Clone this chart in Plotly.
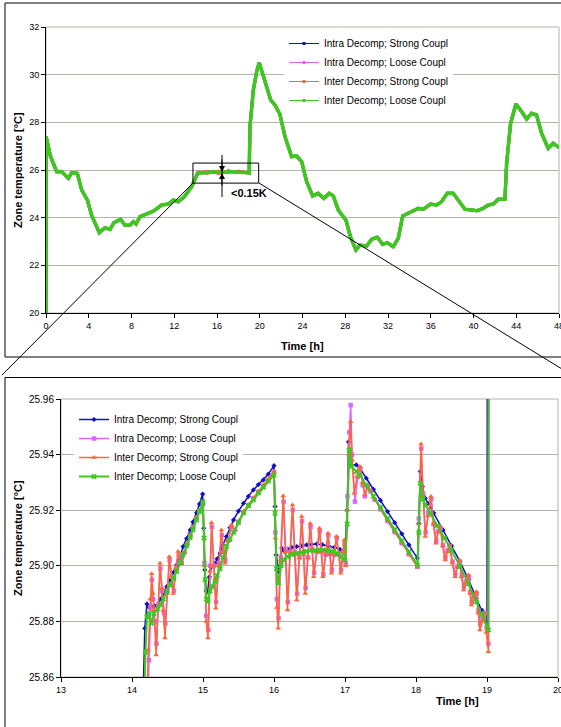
import plotly.graph_objects as go

W, H = 561, 727

# ---------------- data ----------------
series_names = ["Intra Decomp; Strong Coupl", "Intra Decomp; Loose Coupl",
                "Inter Decomp; Strong Coupl", "Inter Decomp; Loose Coupl"]
series_colors = ["#1010C8", "#DA66FF", "#FF6633", "#3CC81E"]
series_symbols = ["diamond", "square", "triangle-up", "x"]

# shared coarse part before the zoom window [h], [degC]
pre_time = [0.0, 0.02, 0.4, 1.0, 1.47, 2.09, 2.4, 2.93, 3.34, 3.87, 4.27, 4.99, 5.52, 5.99,
            6.36, 6.98, 7.39, 7.86, 8.17, 8.42, 8.79, 9.42, 10.04, 10.82, 11.44, 11.91,
            12.38, 12.94, 13.63]
pre_temp = [20.0, 27.39, 26.6, 25.93, 25.93, 25.65, 25.89, 25.86, 25.16, 24.74, 24.10, 23.37,
            23.58, 23.51, 23.79, 23.93, 23.68, 23.68, 23.83, 23.73, 24.04, 24.15, 24.27,
            24.53, 24.57, 24.74, 24.67, 24.88, 25.30]

# shared coarse part after the zoom window
post_time = [19.08, 19.4, 19.71, 19.95, 20.64, 21.02, 21.42, 21.89, 22.36, 22.98, 23.45, 23.92,
             24.39, 24.95, 25.47, 26.0, 26.5, 26.88, 27.35, 28.06, 28.5, 29.0, 29.37, 30.0,
             30.47, 31.0, 31.5, 31.93, 32.49, 32.96, 33.37, 34.05, 34.83, 35.3, 35.98, 36.55,
             37.01, 37.54, 38.1, 38.57, 39.2, 39.82, 40.35, 40.91, 41.38, 41.85, 42.31, 42.94,
             43.1, 43.47, 43.97, 44.5, 44.97, 45.43, 45.9, 46.37, 46.99, 47.46, 48.0]
post_temp = [27.80, 29.36, 30.13, 30.50, 29.50, 28.94, 28.73, 28.33, 27.40, 26.56, 26.59, 26.35,
             25.51, 24.91, 25.02, 24.81, 25.02, 24.91, 24.32, 23.90, 23.18, 22.64, 22.85, 22.81,
             23.09, 23.18, 22.88, 22.95, 22.78, 23.13, 24.07, 24.21, 24.39, 24.35, 24.57, 24.53,
             24.67, 25.02, 25.02, 24.74, 24.35, 24.32, 24.29, 24.39, 24.53, 24.57, 24.77, 24.77,
             26.28, 27.96, 28.77, 28.45, 28.14, 28.38, 28.31, 27.54, 26.91, 27.12, 26.94]

# detailed values inside the zoom window (14.2 h - 19 h)
blue_time = [14.18, 14.21, 14.24, 14.28, 14.32, 14.36, 14.40, 14.44, 14.49, 14.54, 14.59, 14.63,
             14.68, 14.72, 14.77, 14.82, 14.86, 14.91, 14.95, 14.995, 15.01, 15.025, 15.045,
             15.065, 15.09, 15.12, 15.17, 15.20, 15.24, 15.28, 15.33, 15.38, 15.43, 15.50,
             15.57, 15.64, 15.71, 15.78, 15.85, 15.92, 16.00, 16.015, 16.03, 16.07, 16.11,
             16.15, 16.19, 16.25, 16.32, 16.39, 16.46, 16.53, 16.60, 16.68, 16.77, 16.85,
             16.93, 17.00, 17.03, 17.05, 17.09, 17.16, 17.21, 17.30, 17.40, 17.50, 17.60,
             17.70, 17.80, 17.90, 18.02, 18.04, 18.06, 18.09, 18.13, 18.17, 18.25, 18.38,
             18.50, 18.62, 18.74, 18.85, 18.93, 19.00]
blue_temp = [25.8775, 25.8863, 25.8850, 25.8853, 25.8855, 25.8860, 25.8880, 25.8900, 25.8925,
             25.8950, 25.8978, 25.9003, 25.9035, 25.9069, 25.9098, 25.9129, 25.9158, 25.9191,
             25.9222, 25.9258, 25.9135, 25.8985, 25.8910, 25.8907, 25.8960, 25.8997, 25.9009,
             25.9025, 25.9045, 25.9075, 25.9105, 25.9137, 25.9165, 25.9197, 25.9225, 25.9250,
             25.9273, 25.9292, 25.9309, 25.9330, 25.9360, 25.9213, 25.9039, 25.8979, 25.9063,
             25.9051, 25.9060, 25.9066, 25.9069, 25.9072, 25.9075, 25.9077, 25.9078, 25.9076,
             25.9071, 25.9066, 25.9059, 25.9050, 25.9200, 25.9446, 25.9363, 25.9363, 25.9351,
             25.9315, 25.9275, 25.9235, 25.9195, 25.9155, 25.9115, 25.9075, 25.9027, 25.9153,
             25.9339, 25.9285, 25.9243, 25.9225, 25.9190, 25.9129, 25.9072, 25.9015, 25.8950,
             25.8883, 25.8840, 25.8793]

magenta_time = [14.24, 14.26, 14.28, 14.30, 14.32, 14.345, 14.37, 14.40, 14.425, 14.45, 14.47,
                14.50, 14.53, 14.56, 14.59, 14.62, 14.66, 14.70, 14.74, 14.78, 14.82, 14.86,
                14.91, 14.95, 15.00, 15.02, 15.045, 15.075, 15.10, 15.125, 15.155, 15.185,
                15.225, 15.265, 15.29, 15.315, 15.355, 15.40, 15.45, 15.50, 15.57, 15.64,
                15.71, 15.78, 15.85, 15.92, 16.00, 16.02, 16.04, 16.065, 16.095, 16.135,
                16.165, 16.195, 16.23, 16.265, 16.295, 16.325, 16.36, 16.395, 16.42, 16.445,
                16.48, 16.515, 16.54, 16.565, 16.605, 16.645, 16.67, 16.695, 16.73, 16.765,
                16.79, 16.815, 16.85, 16.885, 16.915, 16.945, 16.975, 16.995, 17.01, 17.035,
                17.06, 17.08, 17.10, 17.14, 17.18, 17.215, 17.25, 17.28, 17.32, 17.36, 17.42,
                17.50, 17.60, 17.70, 17.80, 17.90, 18.02, 18.04, 18.075, 18.10, 18.135,
                18.175, 18.215, 18.25, 18.285, 18.315, 18.345, 18.38, 18.415, 18.445, 18.475,
                18.515, 18.555, 18.585, 18.615, 18.645, 18.675, 18.71, 18.745, 18.765, 18.785,
                18.82, 18.855, 18.88, 18.905, 18.935, 18.965, 18.995, 19.02]
magenta_temp = [25.8660, 25.8850, 25.8950, 25.8880, 25.8800, 25.8720, 25.8860, 25.8990, 25.8910,
                25.8830, 25.8793, 25.8910, 25.9020, 25.8960, 25.8910, 25.8990, 25.9040, 25.9010,
                25.9048, 25.9078, 25.9108, 25.9138, 25.9172, 25.9198, 25.9222, 25.9010, 25.8820,
                25.8770, 25.9000, 25.9140, 25.9000, 25.8870, 25.9010, 25.9110, 25.9050, 25.9020,
                25.9090, 25.9140, 25.9128, 25.9158, 25.9193, 25.9218, 25.9243, 25.9266, 25.9288,
                25.9310, 25.9337, 25.9120, 25.8880, 25.8811, 25.9030, 25.9230, 25.9060, 25.8870,
                25.9050, 25.9200, 25.9050, 25.8900, 25.9030, 25.9160, 25.9050, 25.8920, 25.9030,
                25.9140, 25.9060, 25.8975, 25.9050, 25.9125, 25.9050, 25.8970, 25.9040, 25.9110,
                25.9045, 25.8985, 25.9040, 25.9100, 25.9040, 25.8985, 25.9050, 25.9080, 25.9010,
                25.9250, 25.9480, 25.9578, 25.9400, 25.9231, 25.9320, 25.9350, 25.9290, 25.9250,
                25.9280, 25.9268, 25.9238, 25.9203, 25.9161, 25.9121, 25.9081, 25.9041, 25.8997,
                25.9170, 25.9422, 25.9260, 25.9120, 25.9190, 25.9240, 25.9150, 25.9090, 25.9125,
                25.9135, 25.9075, 25.9030, 25.9055, 25.9070, 25.9015, 25.8970, 25.8998, 25.9015,
                25.8965, 25.8925, 25.8945, 25.8960, 25.8905, 25.8870, 25.8893, 25.8900, 25.8840,
                25.8790, 25.8810, 25.8830, 25.8775, 25.8720]

orange_time = [14.23, 14.255, 14.277, 14.295, 14.31, 14.34, 14.365, 14.394, 14.42, 14.44,
               14.465, 14.495, 14.525, 14.555, 14.58, 14.615, 14.65, 14.70, 14.74, 14.78,
               14.82, 14.86, 14.91, 14.95, 15.00, 15.02, 15.045, 15.07, 15.095, 15.12, 15.15,
               15.18, 15.22, 15.26, 15.285, 15.31, 15.35, 15.40, 15.45, 15.50, 15.57, 15.64,
               15.71, 15.78, 15.85, 15.92, 16.00, 16.02, 16.04, 16.06, 16.09, 16.13, 16.16,
               16.19, 16.225, 16.26, 16.29, 16.32, 16.355, 16.39, 16.415, 16.44, 16.475, 16.51,
               16.535, 16.56, 16.60, 16.64, 16.665, 16.69, 16.725, 16.76, 16.785, 16.81,
               16.845, 16.88, 16.91, 16.94, 16.97, 16.99, 17.01, 17.03, 17.055, 17.08, 17.10,
               17.13, 17.17, 17.21, 17.245, 17.28, 17.32, 17.36, 17.42, 17.50, 17.60, 17.70,
               17.80, 17.90, 18.02, 18.04, 18.07, 18.10, 18.13, 18.17, 18.21, 18.245, 18.28,
               18.31, 18.34, 18.375, 18.41, 18.44, 18.47, 18.51, 18.55, 18.58, 18.61, 18.64,
               18.67, 18.705, 18.74, 18.76, 18.78, 18.815, 18.85, 18.875, 18.90, 18.93, 18.96,
               18.99, 19.02]
orange_temp = [25.8697, 25.8880, 25.8971, 25.8900, 25.8841, 25.8679, 25.8850, 25.9009, 25.8920,
               25.8840, 25.8740, 25.8900, 25.9033, 25.8960, 25.8900, 25.8990, 25.9051, 25.9009,
               25.9050, 25.9080, 25.9110, 25.9140, 25.9175, 25.9200, 25.9225, 25.9000, 25.8800,
               25.8740, 25.8980, 25.9155, 25.9000, 25.8847, 25.9000, 25.9129, 25.9050, 25.9009,
               25.9090, 25.9147, 25.9130, 25.9160, 25.9195, 25.9220, 25.9245, 25.9268, 25.9290,
               25.9312, 25.9339, 25.9100, 25.8850, 25.8775, 25.9020, 25.9251, 25.9050, 25.8841,
               25.9050, 25.9219, 25.9040, 25.8877, 25.9030, 25.9177, 25.9040, 25.8900, 25.9030,
               25.9152, 25.9060, 25.8961, 25.9050, 25.9135, 25.9050, 25.8961, 25.9040, 25.9117,
               25.9040, 25.8973, 25.9040, 25.9105, 25.9040, 25.8973, 25.9050, 25.9093, 25.9000,
               25.9200, 25.9400, 25.9518, 25.9380, 25.9261, 25.9320, 25.9357, 25.9300, 25.9255,
               25.9290, 25.9270, 25.9240, 25.9205, 25.9163, 25.9123, 25.9083, 25.9043, 25.8995,
               25.9150, 25.9438, 25.9250, 25.9105, 25.9180, 25.9249, 25.9150, 25.9081, 25.9120,
               25.9141, 25.9070, 25.9021, 25.9050, 25.9075, 25.9010, 25.8961, 25.8995, 25.9021,
               25.8960, 25.8913, 25.8940, 25.8967, 25.8900, 25.8859, 25.8890, 25.8907, 25.8830,
               25.8769, 25.8800, 25.8829, 25.8760, 25.8691]

green_time = [14.19, 14.21, 14.24, 14.27, 14.31, 14.36, 14.40, 14.44, 14.49, 14.54, 14.59,
              14.63, 14.68, 14.72, 14.77, 14.82, 14.86, 14.91, 14.95, 15.00, 15.015, 15.03,
              15.05, 15.07, 15.10, 15.13, 15.17, 15.20, 15.24, 15.28, 15.33, 15.38, 15.43,
              15.50, 15.57, 15.64, 15.71, 15.78, 15.85, 15.92, 16.00, 16.015, 16.035, 16.06,
              16.10, 16.13, 16.19, 16.25, 16.32, 16.39, 16.46, 16.55, 16.62, 16.69, 16.77,
              16.84, 16.90, 16.95, 17.00, 17.03, 17.06, 17.09, 17.16, 17.21, 17.30, 17.40,
              17.50, 17.60, 17.70, 17.80, 17.90, 18.02, 18.04, 18.06, 18.10, 18.13, 18.20,
              18.30, 18.40, 18.50, 18.62, 18.74, 18.85, 18.93, 19.02]
green_temp = [25.8690, 25.8817, 25.8829, 25.8793, 25.8829, 25.8845, 25.8860, 25.8880, 25.8905,
              25.8930, 25.8955, 25.8980, 25.9010, 25.9040, 25.9072, 25.9102, 25.9130, 25.9165,
              25.9195, 25.9230, 25.9100, 25.8950, 25.8880, 25.8871, 25.8910, 25.8925, 25.8945,
              25.8965, 25.8990, 25.9030, 25.9070, 25.9095, 25.9120, 25.9155, 25.9190, 25.9215,
              25.9237, 25.9262, 25.9283, 25.9305, 25.9327, 25.9189, 25.8990, 25.8937, 25.9000,
              25.9021, 25.9033, 25.9040, 25.9045, 25.9048, 25.9052, 25.9054, 25.9056, 25.9057,
              25.9054, 25.9051, 25.9043, 25.9033, 25.9021, 25.9150, 25.9417, 25.9357, 25.9339,
              25.9327, 25.9290, 25.9250, 25.9210, 25.9170, 25.9130, 25.9090, 25.9050, 25.9003,
              25.9120, 25.9297, 25.9240, 25.9219, 25.9189, 25.9145, 25.9100, 25.9055, 25.8998,
              25.8935, 25.8870, 25.8825, 25.8769]

detail_times = [blue_time, magenta_time, orange_time, green_time]
detail_temps = [blue_temp, magenta_temp, orange_temp, green_temp]

top_xticks = list(range(0, 49, 4))
bottom_xticks = list(range(13, 21))

# ---------------- figure ----------------
def px(x):
    return x / W

def py(y):
    return 1 - y / H

FONT = "Arial, Liberation Sans, sans-serif"
GRID = "#B4B4AA"

fig = go.Figure()

top_widths = [3, 3, 3, 3.6]
bot_line = [1.5, 1.5, 1.5, 2.0]
bot_msize = [4, 4.5, 5, 5]

for i in range(4):
    t = pre_time + detail_times[i] + post_time
    v = pre_temp + detail_temps[i] + post_temp
    fig.add_trace(go.Scatter(
        x=t, y=v, name=series_names[i], mode="lines",
        line=dict(color=series_colors[i], width=top_widths[i]),
        xaxis="x", yaxis="y", showlegend=False))

# legend entries of the top panel (thin line + small marker, as in the original)
for i in range(4):
    fig.add_trace(go.Scatter(
        x=[None], y=[None], name=series_names[i], mode="lines+markers",
        line=dict(color=series_colors[i], width=1),
        marker=dict(color=series_colors[i], size=3, symbol="square"),
        xaxis="x", yaxis="y", legend="legend"))

for i in range(4):
    t = pre_time + detail_times[i] + post_time
    v = pre_temp + detail_temps[i] + post_temp
    fig.add_trace(go.Scatter(
        x=t, y=v, name=series_names[i], mode="lines+markers",
        line=dict(color=series_colors[i], width=bot_line[i]),
        marker=dict(color=series_colors[i], size=bot_msize[i], symbol=series_symbols[i],
                    line=dict(width=0)),
        xaxis="x2", yaxis="y2", legend="legend2"))

def axis_common(size):
    return dict(showline=True, linecolor="black", linewidth=1, ticks="outside",
                ticklen=4, tickcolor="black", zeroline=False, automargin=False,
                ticklabeloverflow="allow",
                tickfont=dict(family=FONT, size=size, color="black"))

fig.update_layout(
    width=W, height=H,
    margin=dict(l=0, r=0, t=0, b=0),
    paper_bgcolor="white", plot_bgcolor="white",
    template="none",
    xaxis=dict(domain=[px(46), px(559)], range=[0, 48], tickvals=top_xticks,
               showgrid=False, anchor="y", **axis_common(9)),
    yaxis=dict(domain=[py(313), py(27)], range=[20, 32], dtick=2, tick0=20,
               showgrid=True, gridcolor=GRID, gridwidth=1, anchor="x", **axis_common(9)),
    xaxis2=dict(domain=[px(61), px(558)], range=[13, 20], tickvals=bottom_xticks,
                showgrid=False, anchor="y2", **axis_common(9)),
    yaxis2=dict(domain=[py(677), py(399)], range=[25.86, 25.96], dtick=0.02, tick0=25.86,
                tickformat=".2f", showgrid=True, gridcolor=GRID, gridwidth=1, anchor="x2",
                **axis_common(10)),
    legend=dict(x=px(284), y=py(29), xanchor="left", yanchor="top",
                bgcolor="white", borderwidth=0, tracegroupgap=0,
                font=dict(family=FONT, size=10, color="black")),
    legend2=dict(x=px(74), y=py(405), xanchor="left", yanchor="top",
                 bgcolor="white", borderwidth=0, tracegroupgap=0,
                 font=dict(family=FONT, size=10, color="black")),
    showlegend=True,
)

shapes = []
# outer frames
shapes.append(dict(type="rect", xref="paper", yref="paper", x0=px(5), x1=px(563),
                   y0=py(357), y1=py(3), line=dict(color="black", width=1)))
shapes.append(dict(type="rect", xref="paper", yref="paper", x0=px(5), x1=px(563),
                   y0=py(729), y1=py(377.5), line=dict(color="black", width=1)))
# gray plot-area borders
for xr, yr in (("x domain", "y domain"), ("x2 domain", "y2 domain")):
    shapes.append(dict(type="rect", xref=xr, yref=yr, x0=0, x1=1, y0=0, y1=1,
                       line=dict(color=GRID, width=1), layer="below"))
# zoom box in top panel
shapes.append(dict(type="rect", xref="x", yref="y", x0=13.75, x1=19.9, y0=25.45, y1=26.29,
                   line=dict(color="black", width=1)))
# connecting lines
shapes.append(dict(type="line", xref="paper", yref="paper", x0=px(193), y0=py(183),
                   x1=px(2), y1=py(375), line=dict(color="black", width=1)))
shapes.append(dict(type="line", xref="paper", yref="paper", x0=px(259), y0=py(183),
                   x1=px(562), y1=py(369), line=dict(color="black", width=1)))
# vertical marker line of the difference arrow
shapes.append(dict(type="line", xref="paper", yref="paper", x0=px(222), y0=py(155),
                   x1=px(222), y1=py(197), line=dict(color="black", width=1)))
fig.update_layout(shapes=shapes)

title_font = dict(family=FONT, size=11, color="black")
annotations = [
    dict(x=px(18), y=py(170), xref="paper", yref="paper", text="<b>Zone temperature [°C]</b>",
         textangle=-90, showarrow=False, font=title_font, xanchor="center", yanchor="middle"),
    dict(x=px(302), y=py(346), xref="paper", yref="paper", text="<b>Time [h]</b>",
         showarrow=False, font=title_font, xanchor="center", yanchor="middle"),
    dict(x=px(18), y=py(538), xref="paper", yref="paper", text="<b>Zone temperature [°C]</b>",
         textangle=-90, showarrow=False, font=title_font, xanchor="center", yanchor="middle"),
    dict(x=px(457), y=py(701), xref="paper", yref="paper", text="<b>Time [h]</b>",
         showarrow=False, font=title_font, xanchor="center", yanchor="middle"),
    dict(x=px(229), y=py(193), xref="paper", yref="paper", text="<b>&lt;0.15K</b>",
         showarrow=False, font=title_font, xanchor="left", yanchor="middle"),
    dict(x=px(222), y=py(172), xref="paper", yref="paper", text="", showarrow=True,
         ax=0, ay=-14, arrowhead=2, arrowsize=1.2, arrowwidth=1, arrowcolor="black"),
    dict(x=px(222), y=py(173), xref="paper", yref="paper", text="", showarrow=True,
         ax=0, ay=14, arrowhead=2, arrowsize=1.2, arrowwidth=1, arrowcolor="black"),
]
fig.update_layout(annotations=annotations)

fig.write_html("out.html",
               config={"displayModeBar": False},
               post_script="document.body.style.margin='0px';"
                           "document.body.style.overflow='hidden';")
